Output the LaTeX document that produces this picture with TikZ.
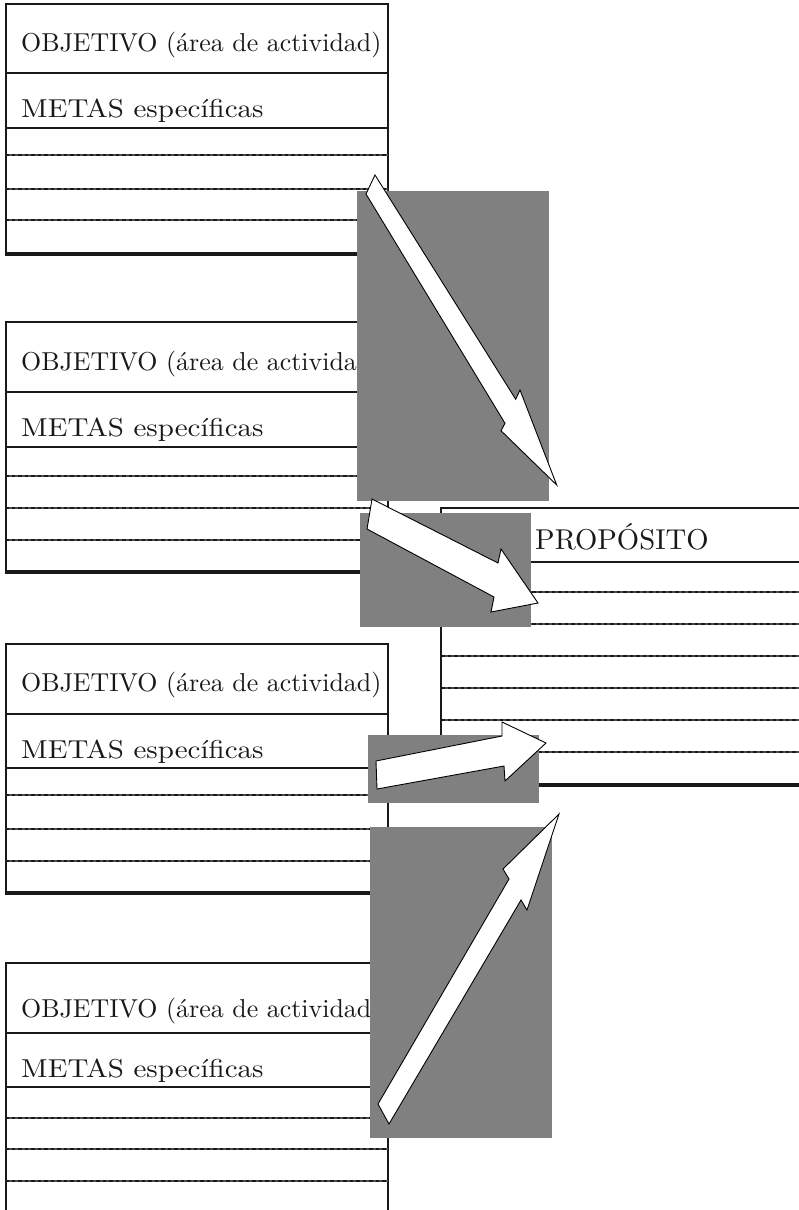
\documentclass[tikz,border=0pt]{standalone}
\usepackage{fontspec}
\definecolor{boxgray}{RGB}{128,128,128}
\definecolor{ink}{RGB}{25,25,25}
\newcommand{\objtitle}{\scalebox{2.59}{\fontsize{10}{12}\selectfont OBJETIVO (área de actividad)}}
\newcommand{\metastitle}{\scalebox{2.9}[2.59]{\fontsize{10}{12}\selectfont METAS específicas}}
\newcommand{\objbox}[9]{%
  % #1 top, #2 header sep, #3 metas sep, #4-#6 dashed rules, #7 bottom, #8 title baseline, #9 metas baseline
  \draw[frame] (6,#7) -- (6,#1) -- (388,#1) -- (388,#7);
  \draw[headsep] (6,#2) -- (388,#2);
  \draw[thinsep] (6,#3) -- (388,#3);
  \draw[dashrule] (5,#4) -- (388,#4);
  \draw[dashrule] (5,#5) -- (388,#5);
  \draw[dashrule] (5,#6) -- (388,#6);
  \draw[baserule] (5,#7) -- (389,#7);
  \node[boxtext] (obj#1) at (21,#8) {\objtitle};
  \node[boxtext] (metas#1) at (21,#9) {\metastitle};
}
\begin{document}
\begin{tikzpicture}[x=1pt,y=-1pt,
  frame/.style={line width=2.3pt, draw=ink},
  headsep/.style={line width=2.1pt, draw=ink},
  thinsep/.style={line width=1.2pt, draw=ink},
  dashrule/.style={line width=2.4pt, draw=black!70, postaction={draw=ink, line width=2.4pt, dash pattern=on 3.5pt off 3pt}},
  baserule/.style={line width=3.2pt, draw=ink},
  shade/.style={fill=boxgray, draw=none},
  blockarrow/.style={fill=white, draw=black, line width=0.9pt, line join=miter},
  boxtext/.style={anchor=base west, inner sep=0pt, text=ink},
]
\useasboundingbox (0,0) rectangle (798,1210);

% the four OBJETIVO boxes
\objbox{4}{73}{128}{155}{189}{220}{254}{51}{117}
\objbox{322}{392}{447}{476}{508}{540}{572}{370}{436}
\objbox{644}{714}{768}{795}{829}{861}{893}{691}{758}
\objbox{963}{1033}{1087}{1118}{1149}{1181}{1216}{1017}{1077}

% PROPOSITO box
\draw[frame] (441,785) -- (441,508) -- (800,508);
\draw[headsep] (441,562) -- (800,562);
\foreach \yy in {592,624,656,688,720,752} {
  \draw[dashrule] (441,\yy) -- (800,\yy);
}
\draw[baserule] (440,785) -- (800,785);
\node[boxtext] (prop) at (535,549) {\scalebox{2.87}{\fontsize{10}{12}\selectfont PROPÓSITO}};

% grey panels
\fill[shade] (357,191) rectangle (549,501);
\fill[shade] (360,513) rectangle (531,627);
\fill[shade] (368,735) rectangle (539,803);
\fill[shade] (370,827) rectangle (552,1138);

% block arrows
\coordinate (a1t1) at (366,194); \coordinate (a1t2) at (375,175);
\coordinate (a1n2) at (515.7,399.3); \coordinate (a1b2) at (520,390);
\coordinate (a1tip) at (556.7,485);
\coordinate (a1b1) at (501,430.7); \coordinate (a1n1) at (505,423.3);
\draw[blockarrow] (a1t1) -- (a1t2) -- (a1n2) -- (a1b2) -- (a1tip) -- (a1b1) -- (a1n1) -- cycle;

\coordinate (a2t1) at (372,499); \coordinate (a2n1) at (498,563);
\coordinate (a2b1) at (501,549); \coordinate (a2tip) at (538,603);
\coordinate (a2b2) at (491,612); \coordinate (a2n2) at (494,597);
\coordinate (a2t2) at (367,529);
\draw[blockarrow] (a2t1) -- (a2n1) -- (a2b1) -- (a2tip) -- (a2b2) -- (a2n2) -- (a2t2) -- cycle;

\coordinate (a3t1) at (376,761); \coordinate (a3n1) at (502,736);
\coordinate (a3b1) at (502,722); \coordinate (a3tip) at (546,743);
\coordinate (a3b2) at (505,781); \coordinate (a3n2) at (504,766);
\coordinate (a3t2) at (377,789);
\draw[blockarrow] (a3t1) -- (a3n1) -- (a3b1) -- (a3tip) -- (a3b2) -- (a3n2) -- (a3t2) -- cycle;

\coordinate (a4t1) at (378,1104); \coordinate (a4n1) at (509,879);
\coordinate (a4b1) at (503,869); \coordinate (a4tip) at (559,814);
\coordinate (a4b2) at (527,910); \coordinate (a4n2) at (521,900);
\coordinate (a4t2) at (389,1124);
\draw[blockarrow] (a4t1) -- (a4n1) -- (a4b1) -- (a4tip) -- (a4b2) -- (a4n2) -- (a4t2) -- cycle;
\end{tikzpicture}
\end{document}
